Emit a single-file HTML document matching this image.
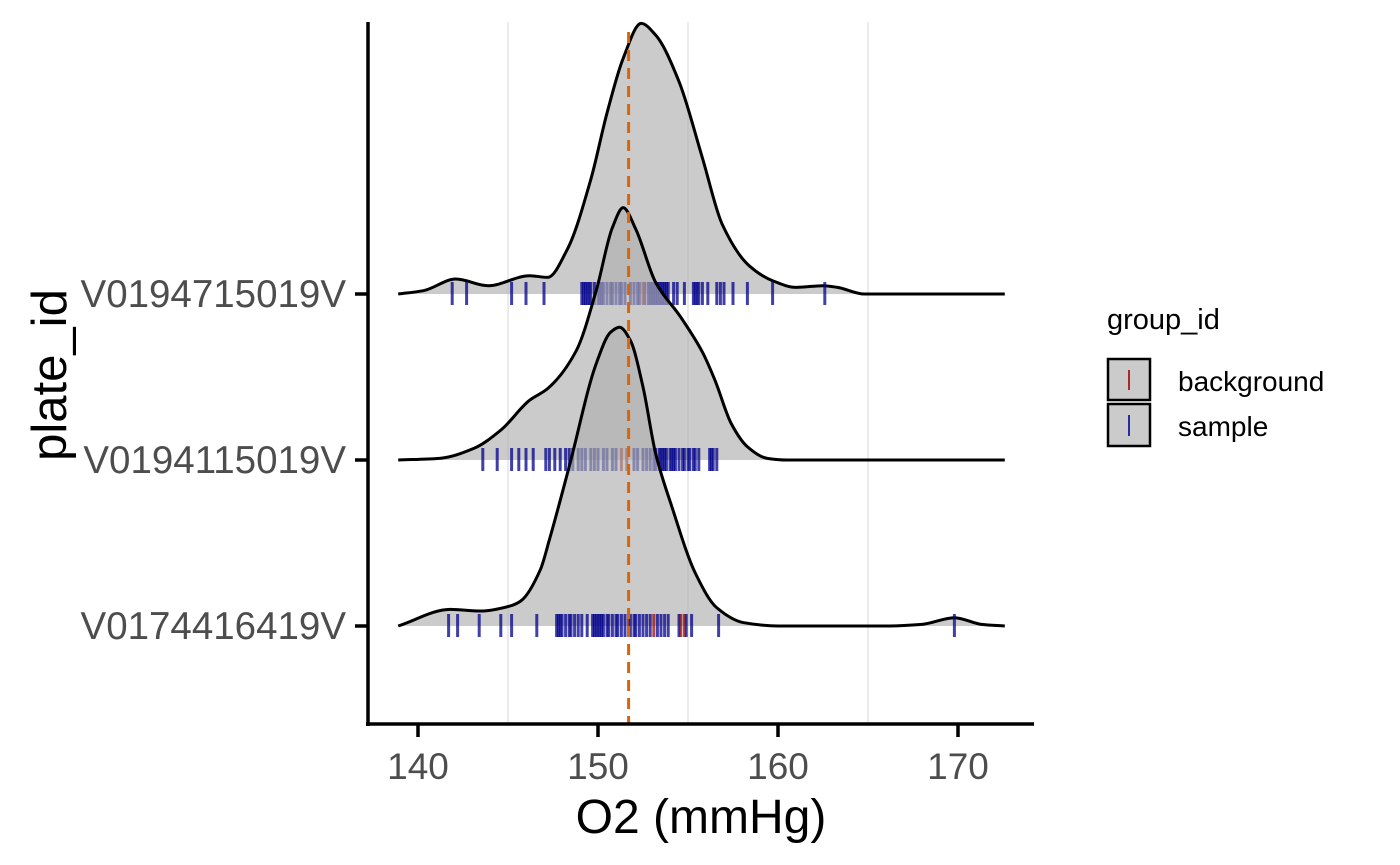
<!DOCTYPE html>
<html><head><meta charset="utf-8"><style>
body{margin:0;background:#fff;}
svg{display:block;font-family:"Liberation Sans",Arial,sans-serif;}
</style></head><body>
<svg id="chart" width="1400" height="865" viewBox="0 0 1400 865">
<g id="grid"></g>
<g id="ridges"></g>
<g id="axes"></g>
<text x="701" y="833" font-size="48" text-anchor="middle" fill="#000">O2 (mmHg)</text>
<text transform="translate(66,375) rotate(-90)" font-size="49" text-anchor="middle" fill="#000">plate_id</text>
<g>
<text x="1107" y="329" font-size="29" fill="#000">group_id</text>
<g>
<rect x="1108" y="359" width="42" height="41" fill="#cbcbcb" stroke="#000" stroke-width="2.5"/>
<line x1="1129" y1="370" x2="1129" y2="390" stroke="#a52a2a" stroke-width="2"/>
<text x="1178" y="391" font-size="28" fill="#000">background</text></g>
<g>
<rect x="1108" y="404" width="42" height="42" fill="#cbcbcb" stroke="#000" stroke-width="2.5"/>
<line x1="1129" y1="415" x2="1129" y2="436" stroke="#2a2aa5" stroke-width="2"/>
<text x="1178" y="436" font-size="28" fill="#000">sample</text></g>
</g>
</svg>
<script>
const plateIds = ["V0194715019V","V0194115019V","V0174416419V"];
const xTicks = [140,150,160,170];
const gridVals = [145,155,165];
const refLine = 151.7;
const topX = [138.9,140.3,142.1,143.9,146.2,147.2,148.3,149.6,150.5,151.4,152.4,153.2,154.5,155.8,156.9,158.4,159.7,161.0,162.5,163.3,164.8,172.6];
const topD = [0,0.02,0.09,0.05,0.11,0.10,0.27,0.69,1.09,1.42,1.63,1.56,1.28,0.82,0.42,0.17,0.08,0.04,0.05,0.04,0,0];
const midX = [138.9,141.2,143.1,144.6,146.2,147.2,148.8,149.9,150.8,151.4,152.1,153.2,154.6,155.8,156.5,157.4,158.3,159.4,160.5,172.6];
const midD = [0,0.01,0.07,0.18,0.36,0.43,0.66,1.02,1.40,1.52,1.39,1.07,0.86,0.65,0.48,0.22,0.08,0.01,0,0];
const botX = [138.9,141.8,143.5,145.1,145.7,146.8,147.3,148.4,149.9,150.7,151.2,151.8,152.5,153.2,154.1,155.4,156.6,158.1,160.0,166.0,168.0,169.8,171.3,172.6];
const botD = [0,0.10,0.09,0.12,0.15,0.34,0.52,0.96,1.58,1.77,1.80,1.72,1.44,1.04,0.72,0.32,0.11,0.02,0,0,0.01,0.05,0.01,0];
const topSample = [141.9,142.7,145.2,146.0,147.0,149.1,149.2,149.3,149.4,149.5,149.6,149.8,150.0,150.1,150.2,150.3,150.5,150.7,150.8,151.0,151.2,151.3,151.5,151.8,152.0,152.2,152.3,152.6,152.8,152.9,153.0,153.1,153.2,153.3,153.4,153.5,153.6,153.7,153.8,153.9,154.2,154.4,154.8,155.3,155.4,155.5,155.6,155.8,156.1,156.6,156.8,157.0,157.5,158.3,159.7,162.6];
const topBg = [152.5];
const midSample = [143.6,144.4,145.2,145.6,146.0,146.4,147.1,147.3,147.6,147.9,148.2,148.4,148.6,148.9,149.1,149.3,149.6,149.8,150.0,150.3,150.5,150.8,151.0,152.0,152.2,152.5,152.7,152.9,153.1,153.2,153.4,153.5,153.6,153.7,153.8,154.0,154.1,154.2,154.3,154.5,154.7,154.8,155.0,155.1,155.3,155.4,155.6,156.2,156.3,156.4,156.6];
const midBg = [151.3,151.6];
const botSample = [141.7,142.2,143.4,144.6,145.2,146.6,147.7,147.8,147.9,148.0,148.2,148.4,148.5,148.7,148.9,149.1,149.4,149.7,149.8,149.9,150.0,150.1,150.2,150.3,150.5,150.6,150.8,151.0,151.1,151.3,151.5,151.8,152.0,152.1,152.3,152.5,152.7,152.9,153.3,153.5,153.7,153.9,154.5,154.9,155.2,156.7,169.8];
const botBg = [151.7,153.1,154.6,154.8];

const NS="http://www.w3.org/2000/svg";
const X = v => 418 + (v-140)*18;
const baseY = i => 294 + i*166;
const H = d => d*166;
function mk(tag, attrs, parent){const e=document.createElementNS(NS,tag);for(const k in attrs)e.setAttribute(k,attrs[k]);parent.appendChild(e);return e;}
const grid=document.getElementById('grid'), ridges=document.getElementById('ridges'), axes=document.getElementById('axes');
gridVals.forEach(v=>{
  const l=mk('line',{x1:X(v),x2:X(v),y1:22,y2:724,stroke:'#ebebeb','stroke-width':2},grid);
  
  
});
function curvePath(xs,ds,by){
  const px=xs.map(X), py=ds.map(d=>by-H(d)), n=px.length;
  const dl=[], m=new Array(n);
  for(let i=0;i<n-1;i++) dl.push((py[i+1]-py[i])/(px[i+1]-px[i]));
  m[0]=dl[0]; m[n-1]=dl[n-2];
  for(let i=1;i<n-1;i++){
    if(dl[i-1]*dl[i]<=0) m[i]=0;
    else { const w1=2*(px[i+1]-px[i])+(px[i]-px[i-1]), w2=(px[i+1]-px[i])+2*(px[i]-px[i-1]);
      m[i]=(w1+w2)/(w1/dl[i-1]+w2/dl[i]); }
  }
  let d='M'+px[0]+','+py[0];
  for(let i=0;i<n-1;i++){
    const h=(px[i+1]-px[i])/3;
    d+=` C${px[i]+h},${py[i]+m[i]*h} ${px[i+1]-h},${py[i+1]-m[i+1]*h} ${px[i+1]},${py[i+1]}`;
  }
  return d;
}
const series=[[topX,topD,topSample,topBg],[midX,midD,midSample,midBg],[botX,botD,botSample,botBg]];
series.forEach((s,i)=>{
  const by=baseY(i);
  const g=mk('g',{},ridges);
  
  
  const c=curvePath(s[0],s[1],by);
  const f=mk('path',{d:c+` L${X(s[0][s[0].length-1])},${by} L${X(s[0][0])},${by} Z`,fill:'rgba(175,175,175,0.65)',stroke:'none'},g);
  
  
  const ln=mk('path',{d:c,fill:'none',stroke:'#000','stroke-width':3},g);
  
  
  s[2].forEach(v=>{
    const r=mk('line',{x1:X(v),x2:X(v),y1:by-12,y2:by+11,stroke:'rgba(0,0,139,0.75)','stroke-width':3},g);
    
    
  });
  s[3].forEach(v=>{
    const r=mk('line',{x1:X(v),x2:X(v),y1:by-12,y2:by+11,stroke:'rgba(139,0,0,0.7)','stroke-width':3},g);
    
    
  });
});
const ref=mk('line',{x1:X(refLine),x2:X(refLine),y1:32,y2:724,stroke:'#d9650b','stroke-width':3,'stroke-dasharray':'11 7'},ridges);


const ya=mk('line',{x1:368,x2:368,y1:22,y2:726,stroke:'#000','stroke-width':3.5},axes);


const xa=mk('line',{x1:366,x2:1034,y1:724,y2:724,stroke:'#000','stroke-width':3.5},axes);


plateIds.forEach((p,i)=>{
  const y=baseY(i);
  const t=mk('line',{x1:355,x2:368,y1:y,y2:y,stroke:'#000','stroke-width':3.5},axes);
  
  
  const tx=mk('text',{x:346,y:y+13,'font-size':38.5,'text-anchor':'end',fill:'#4d4d4d'},axes);
  tx.textContent=p;
  
  
});
xTicks.forEach(v=>{
  const t=mk('line',{x1:X(v),x2:X(v),y1:724,y2:737,stroke:'#000','stroke-width':3.5},axes);
  
  
  const tx=mk('text',{x:X(v),y:779,'font-size':37,'text-anchor':'middle',fill:'#4d4d4d'},axes);
  tx.textContent=v;
  
  
});
</script>
</body></html>
